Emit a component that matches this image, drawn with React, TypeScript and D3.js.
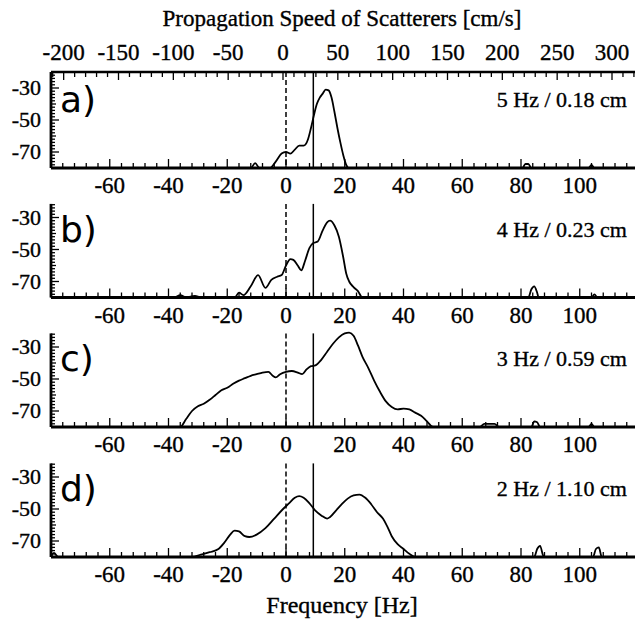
import React from "react";
import * as d3 from "d3";

const freqTicks = [-60, -40, -20, 0, 20, 40, 60, 80, 100];
const speedTicks = [-200, -150, -100, -50, 0, 50, 100, 150, 200, 250, 300];
const dbTicks = [-30, -50, -70];
const panelLabels = ["a)", "b)", "c)", "d)"];
const panelNotes = ["5 Hz / 0.18 cm", "4 Hz / 0.23 cm", "3 Hz / 0.59 cm", "2 Hz / 1.10 cm"];
const zeroFreq = 0;
const dopplerFreq = 9.3;

const seriesA: [number, number][] = [
  [-80, -80], [-12, -80], [-10.5, -77], [-9, -80], [-5.5, -80], [-3.5, -76], [-1.5, -71], [0, -70],
  [1.5, -71], [3, -68.5], [4.5, -66], [6, -66], [7.5, -62], [8.5, -55], [9.5, -47], [10.5, -40],
  [11.5, -36], [12.5, -33.5], [13.5, -31], [14.5, -31.5], [15.5, -36], [16.5, -45], [17.5, -55],
  [18.5, -64], [19.5, -72], [20.5, -78], [21.5, -80], [80.5, -80], [81.5, -77.5], [82.5, -77.5],
  [83.5, -80], [103, -80], [104, -78], [105, -80], [120, -80],
];
const seriesB: [number, number][] = [
  [-80, -80], [-38, -80], [-36, -78.5], [-34, -80], [-31, -79], [-29, -80], [-17.5, -80], [-16, -77],
  [-14.5, -78.5], [-12, -73], [-9.5, -66], [-7, -74], [-5, -69], [-3, -67], [-1.5, -66], [0, -60],
  [1.5, -56], [2.5, -56.5], [4, -60], [5.2, -63], [6.5, -57], [8, -49], [9.3, -46], [10.8, -45],
  [12.5, -38], [14, -33], [15, -32], [16.5, -35], [18, -42], [19.5, -55], [20.5, -65], [21.5, -70],
  [23, -73.5], [24.5, -76], [26, -80], [82.5, -80], [83.5, -75], [84.5, -73], [85.5, -77], [86, -80],
  [104, -80], [105, -78], [106, -80], [120, -80],
];
const seriesC: [number, number][] = [
  [-80, -80], [-36, -80], [-34, -75], [-32, -70], [-30, -67], [-28, -65.5], [-26, -63], [-24, -60],
  [-22, -57], [-20, -55.5], [-18, -53], [-16, -51], [-14, -49.5], [-12, -48], [-10, -47], [-8, -46],
  [-6, -45.5], [-4.5, -48], [-3.5, -49], [-2, -47], [0, -45.5], [2, -45], [4, -46], [5.5, -47],
  [7, -44], [8.5, -42], [10, -41.5], [12, -38], [14, -33], [16, -28], [18, -24], [20, -21.5],
  [21.5, -21], [23, -23], [24.5, -29], [26, -36], [28, -43], [30, -51], [32, -58], [34, -64],
  [36, -67.5], [38, -69], [40, -68.5], [42, -69], [44, -71], [46, -73], [48, -76.5], [50, -80],
  [66, -80], [67.5, -78], [71, -78], [72.5, -80], [83.5, -80], [84.5, -76.5], [85.5, -77], [86.5, -80],
  [103, -80], [104, -78], [105, -80], [120, -80],
];
const seriesD: [number, number][] = [
  [-80, -80], [-79, -77.5], [-77.5, -80], [-32, -80], [-29, -78.5], [-26, -77], [-23, -75], [-21, -71],
  [-19, -66], [-17.5, -63.5], [-16, -64], [-14, -67], [-12.5, -67.5], [-10, -66], [-7, -62], [-4, -56],
  [-1, -50], [1, -46.5], [3, -43], [4.5, -42], [6, -43], [8, -46.5], [10, -51], [12, -54], [14, -56],
  [15, -55], [17, -51], [19, -47], [21, -43.5], [23, -41.5], [25, -41], [27, -43], [29, -47], [31, -52],
  [33, -56], [34.5, -61], [36, -67], [38, -72], [40, -75], [42, -78], [44, -80], [84.5, -80],
  [85.5, -75], [86.5, -73], [87.5, -79], [88, -80], [104.5, -80], [105.5, -75], [106.5, -74],
  [107.5, -80], [120, -80],
];
const allSeries = [seriesA, seriesB, seriesC, seriesD];

const W = 635;
const H = 622;
const serif = "Liberation Serif, Times New Roman, Times, serif";
const sans = "DejaVu Sans, Noto Sans, sans-serif";

export default function App() {
  const x = d3.scaleLinear().domain([-80, 120]).range([51, 638.5]);
  const xs = d3.scaleLinear().domain([0, 300]).range([283, 612]);
  const bottoms = [168, 297.5, 427, 557];
  const panelH = 96;

  const minorFreq = d3.range(-80, 121, 4);
  const minorSpeed = d3.range(-210, 321, 10);
  const minorDb = d3.range(-80, -21, 2);
  const textStyle = { fontFamily: serif };
  const thick = { stroke: "#000", strokeWidth: 0.35 };

  return (
    <svg width={W} height={H} style={{ position: "absolute", left: 0, top: 0, background: "#fff" }}>
      <defs>
        <clipPath id="plotclip">
          <rect x={51} y={0} width={W - 51} height={H} />
        </clipPath>
      </defs>
      <text x={342} y={26} textAnchor="middle" fontSize={23} style={textStyle} {...thick}>Propagation Speed of Scatterers [cm/s]</text>
      {speedTicks.map((v) => (
        <text key={"s" + v} x={xs(v)} y={60} textAnchor="middle" fontSize={23} style={textStyle} {...thick}>{v}</text>
      ))}
      {bottoms.map((b, i) => {
        const y = d3.scaleLinear().domain([-80, -20]).range([b, b - panelH]);
        const top = i === 0 ? y(-20) : y(-21.5);
        const line = d3
          .line<[number, number]>()
          .x((d) => x(d[0]))
          .y((d) => y(d[1]))
          .curve(d3.curveMonotoneX);
        return (
          <g key={"p" + i}>
            <g clipPath="url(#plotclip)">
              <path d={line(allSeries[i]) || ""} fill="none" stroke="#000" strokeWidth={1.8} />
            </g>
            <line x1={x(zeroFreq)} x2={x(zeroFreq)} y1={top} y2={b} stroke="#000" strokeWidth={1.5} strokeDasharray="5,3" />
            <line x1={x(dopplerFreq)} x2={x(dopplerFreq)} y1={top} y2={b} stroke="#000" strokeWidth={1.5} />
            <line x1={51} x2={W} y1={b} y2={b} stroke="#000" strokeWidth={2.8} />
            {minorFreq.map((f) => (
              <line key={"mf" + f} x1={x(f)} x2={x(f)} y1={b} y2={b - (f % 20 === 0 ? 9 : 5)} stroke="#000" strokeWidth={1.3} />
            ))}
            {freqTicks.map((f) => (
              <text key={"ft" + f} x={x(f)} y={b + 25} textAnchor="middle" fontSize={23} style={textStyle} {...thick}>{f}</text>
            ))}
            <line x1={51} x2={51} y1={top} y2={b} stroke="#000" strokeWidth={2.8} />
            {minorDb.map((d) => (
              <line key={"md" + d} x1={51} x2={51 + (d % 20 === -10 ? 8 : d % 10 === 0 ? 5 : 4)} y1={y(d)} y2={y(d)} stroke="#000" strokeWidth={1.3} />
            ))}
            {dbTicks.map((d) => (
              <text key={"dt" + d} x={41} y={y(d) + 7} textAnchor="end" fontSize={22} style={textStyle} {...thick}>{d}</text>
            ))}
            <text x={60} y={b - 56} fontSize={36} style={{ fontFamily: sans }}>{panelLabels[i]}</text>
            <text x={627} y={b - 61} textAnchor="end" fontSize={22} style={textStyle} {...thick}>{panelNotes[i]}</text>
            {i === 0 && (
              <g>
                <line x1={51} x2={W} y1={top} y2={top} stroke="#000" strokeWidth={2.4} />
                {minorSpeed.map((v) => (
                  <line key={"ms" + v} x1={xs(v)} x2={xs(v)} y1={top} y2={top + (v % 50 === 0 ? 8 : 5)} stroke="#000" strokeWidth={1.3} />
                ))}
              </g>
            )}
          </g>
        );
      })}
      <text x={342} y={613} textAnchor="middle" fontSize={24} style={textStyle} {...thick}>Frequency [Hz]</text>
    </svg>
  );
}
